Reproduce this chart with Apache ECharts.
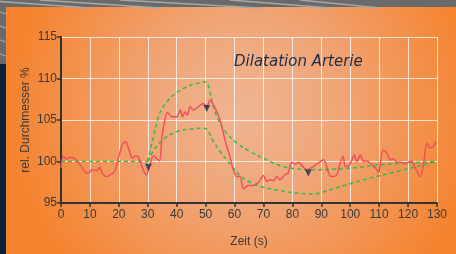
<!DOCTYPE html>
<html lang="de">
<head>
    <meta charset="UTF-8">
    <title>Dilatation Arterie</title>
    <script src="https://cdn.jsdelivr.net/npm/echarts@6/dist/echarts.min.js"></script>
    <style>
        html, body { margin: 0; padding: 0; }
        #main { width: 456px; height: 254px; }
    </style>
</head>
<body>
<div id="main"></div>
<script>
    // Messkurve: [Zeit (s), rel. Durchmesser %]
    var measured = [
        [0, 99.2], [0.8, 100.6], [2, 100.3], [3.1, 100.5], [4.9, 100.3], [6.6, 99.6], [8.4, 98.7], [9.5, 98.6],
        [10.7, 99.0], [12.4, 98.9], [13.4, 99.3], [14.2, 98.6], [15.7, 98.2], [17.1, 98.4], [18.5, 98.8],
        [20, 100.6], [21.2, 102.0], [22.3, 102.4], [23.5, 101.4], [24.7, 100.4], [25.8, 100.7], [26.6, 100.6],
        [27.6, 99.8], [28.7, 98.8], [29.5, 98.4], [30.6, 99.4], [32, 100.7], [33.2, 100.3], [34.1, 100.1],
        [34.9, 103.0], [35.7, 104.6], [36.8, 105.9], [38.4, 105.4], [40, 105.4], [41.3, 106.2], [42, 105.4],
        [42.9, 106.0], [43.7, 105.6], [44.6, 106.6], [45.8, 106.2], [47.5, 106.6], [49.2, 107.0], [50.4, 106.6],
        [51.5, 107.4], [53.3, 106.4], [55, 105.0], [56.7, 102.6], [58.4, 100.6], [59.6, 99.0], [60.8, 98.2],
        [61.9, 98.2], [63.1, 96.7], [64.8, 97.1], [66.5, 97.1], [68.3, 97.5], [70, 98.3], [71.2, 97.6],
        [72.3, 97.8], [73.5, 97.7], [74.6, 98.2], [75.7, 97.8], [77.4, 98.4], [78.5, 98.6], [79.8, 99.9],
        [81, 99.7], [82.2, 99.9], [83.3, 99.5], [85, 99.0], [86.8, 99.3], [88.5, 99.7], [90.8, 100.2],
        [92, 99.2], [93.2, 98.2], [94.2, 98.2], [95.4, 98.4], [96.5, 99.8], [97.5, 100.6], [98.3, 99.4],
        [99.5, 99.5], [100.6, 100.2], [101.4, 100.8], [102.3, 100.0], [103.5, 100.8], [104.6, 100.0],
        [105.7, 100.1], [106.9, 99.8], [108.1, 99.4], [109.2, 99.0], [109.8, 98.6], [110.4, 99.8],
        [111.4, 101.4], [112.7, 101.0], [113.9, 100.2], [115, 100.3], [116.2, 99.9], [117.3, 99.9],
        [118.5, 99.8], [119.6, 99.8], [120.5, 100.0], [121.4, 100.0], [122.5, 99.2], [123.7, 98.4],
        [124.3, 98.2], [125.4, 99.8], [126.5, 102.2], [127.6, 101.6], [128.6, 101.8], [129.7, 102.4]
    ];
    // Modellkurven (gestrichelt)
    var baseline = [[0, 100], [30, 100]];
    var upperFit = [
        [30, 100], [31, 101.6], [32, 103.0], [33.7, 105.4], [35, 106.4], [36.6, 107.2], [40, 108.3],
        [43.4, 109.0], [46.9, 109.4], [50, 109.6], [51.5, 108.3], [52.7, 106.6], [55, 104.6], [57.3, 103.4],
        [60.8, 102.2], [65.4, 101.2], [70, 100.4], [75.8, 99.5], [81.5, 99.1], [86, 99.0], [100, 99.2],
        [110.4, 99.6], [130, 100.0]
    ];
    var lowerFit = [
        [30, 100], [32, 101.3], [35.5, 102.7], [40, 103.6], [44.6, 103.9], [49.2, 104.0], [50.4, 103.9],
        [52.7, 102.4], [55, 101.2], [57.3, 100.2], [59.6, 99.2], [61.9, 98.3], [65.4, 97.5], [70, 96.9],
        [75.7, 96.5], [81.4, 96.2], [87.2, 96.1], [93, 96.6], [98.8, 97.2], [104.6, 97.8], [110.4, 98.3],
        [116.2, 98.8], [121.9, 99.3], [130, 100.0]
    ];
    // Markierungen (Dreiecke)
    var markers = [[30.2, 99.3], [50.4, 106.4], [85.5, 98.6]];
    var xTicks = [0, 10, 20, 30, 40, 50, 60, 70, 80, 90, 100, 110, 120, 130];
    var yTicks = [95, 100, 105, 110, 115];

    var font = '"Liberation Sans", Arial, sans-serif';
    var myChart = echarts.init(document.getElementById('main'));

    // Rahmen: grauer Streifen oben, dunkelblauer links
    var stripes = [];
    [[-20, 0, 90, 8], [40, 0, 160, 8], [120, 0, 260, 8], [230, 0, 330, 8], [300, 0, 380, 8]].forEach(function (s) {
        stripes.push({
            type: 'line', z: -8, silent: true,
            shape: {x1: s[0], y1: s[1], x2: s[2], y2: s[3]},
            style: {stroke: '#a8a8a8', lineWidth: 1.5}
        });
    });
    [[0, 12, 6, 14], [0, 26, 6, 28], [0, 40, 6, 42], [0, 54, 6, 56]].forEach(function (s) {
        stripes.push({
            type: 'line', z: -8, silent: true,
            shape: {x1: s[0], y1: s[1], x2: s[2], y2: s[3]},
            style: {stroke: '#9a9a9a', lineWidth: 1.5}
        });
    });

    var option = {
        animation: false,
        backgroundColor: '#0e2237',
        graphic: [
            {type: 'rect', z: -10, silent: true, shape: {x: 0, y: 0, width: 456, height: 64}, style: {fill: '#6a6a6a'}},
            {
                type: 'rect', z: -9, silent: true,
                shape: {x: 6, y: 7, width: 450, height: 247},
                style: {
                    fill: new echarts.graphic.RadialGradient(0.53, 0.42, 0.95, [
                        {offset: 0, color: '#efb592'},
                        {offset: 0.4, color: '#f0a577'},
                        {offset: 1, color: '#f5832e'}
                    ])
                }
            }
        ].concat(stripes),
        title: {
            text: 'Dilatation Arterie',
            left: 229,
            top: 50,
            textStyle: {fontFamily: '"DejaVu Sans", Verdana, sans-serif', fontStyle: 'italic', fontWeight: 'normal', fontSize: 15, color: '#1c2c48'}
        },
        grid: {left: 61, right: 19, top: 37, bottom: 51},
        xAxis: {
            type: 'value',
            min: 0,
            max: 130,
            interval: 10,
            name: 'Zeit (s)',
            nameLocation: 'middle',
            nameGap: 33,
            nameMoveOverlap: false,
            nameTextStyle: {fontFamily: font, fontSize: 12, color: '#3a3a3a'},
            axisLine: {show: true, lineStyle: {color: '#333', width: 2}},
            axisTick: {show: true, length: 4, lineStyle: {color: '#333', width: 1.5}},
            axisLabel: {fontFamily: font, fontSize: 12, color: '#3a3a3a', margin: 6,
                formatter: function (v) { return xTicks.indexOf(v) >= 0 ? v : ''; }},
            splitLine: {show: true, lineStyle: {color: 'rgba(255,255,255,0.75)', width: 1}}
        },
        yAxis: {
            type: 'value',
            min: 95,
            max: 115,
            interval: 5,
            name: 'rel. Durchmesser %',
            nameLocation: 'middle',
            nameGap: 29,
            nameMoveOverlap: false,
            nameTextStyle: {fontFamily: font, fontSize: 12, color: '#3a3a3a'},
            axisLine: {show: true, lineStyle: {color: '#333', width: 2}},
            axisTick: {show: true, length: 4, lineStyle: {color: '#333', width: 1.5}},
            axisLabel: {fontFamily: font, fontSize: 12, color: '#3a3a3a', margin: 4,
                formatter: function (v) { return yTicks.indexOf(v) >= 0 ? v : ''; }},
            splitLine: {show: true, lineStyle: {color: 'rgba(255,255,255,0.75)', width: 1}}
        },
        series: [
            {
                name: 'Basis', type: 'line', data: baseline, symbol: 'none',
                lineStyle: {color: '#3fb84c', width: 1.6, type: [4, 3]}
            },
            {
                name: 'Oben', type: 'line', data: upperFit, symbol: 'none', smooth: 0.4,
                lineStyle: {color: '#3fb84c', width: 1.6, type: [4, 3]}
            },
            {
                name: 'Unten', type: 'line', data: lowerFit, symbol: 'none', smooth: 0.4,
                lineStyle: {color: '#3fb84c', width: 1.6, type: [4, 3]}
            },
            {
                name: 'Messung', type: 'line', data: measured, symbol: 'none', smooth: 0.3, z: 3,
                lineStyle: {color: '#f0505a', width: 1.5}
            },
            {
                name: 'Marker', type: 'scatter', data: markers, symbol: 'triangle', symbolRotate: 180,
                symbolSize: [7, 7], z: 4,
                itemStyle: {color: '#1a2f4f'}
            }
        ]
    };

    myChart.setOption(option);
</script>
</body>
</html>
